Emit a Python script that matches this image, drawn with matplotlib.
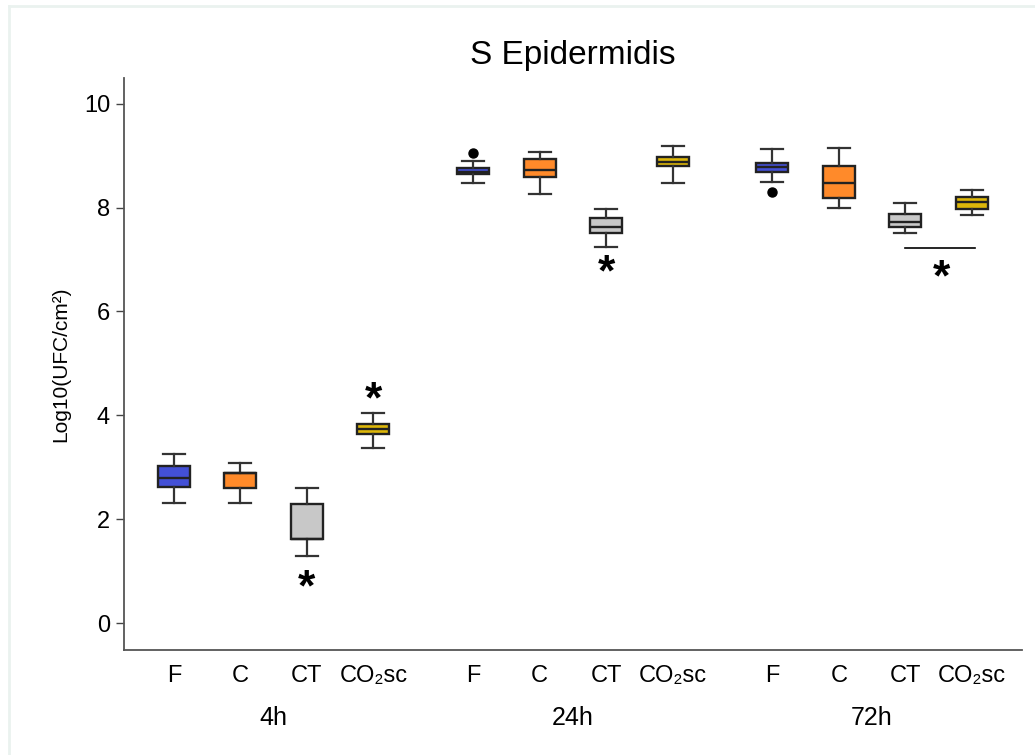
import numpy as np
import matplotlib
matplotlib.use("Agg")
from matplotlib import pyplot as plt

plt.rcParams['font.family'] = ['Liberation Sans', 'DejaVu Sans']

groups = ["4h", "24h", "72h"]
treatments = ["F", "C", "CT", "CO₂sc"]
colors = ["#4350D6", "#FF8A2A", "#C8C8C8", "#DDB70A"]

# per box: lower whisker, q1, median, q3, upper whisker (group order 4h, 24h, 72h)
whislo = [2.31, 2.31, 1.29, 3.37,  8.48, 8.27, 7.25, 8.48,  8.50, 8.00, 7.51, 7.86]
q1     = [2.62, 2.60, 1.62, 3.64,  8.65, 8.59, 7.51, 8.81,  8.69, 8.19, 7.63, 7.98]
med    = [2.79, 2.88, 1.62, 3.74,  8.69, 8.73, 7.63, 8.88,  8.79, 8.48, 7.73, 8.11]
q3     = [3.02, 2.89, 2.29, 3.83,  8.77, 8.94, 7.80, 8.98,  8.86, 8.81, 7.88, 8.21]
whishi = [3.26, 3.08, 2.60, 4.05,  8.90, 9.07, 7.98, 9.19,  9.13, 9.15, 8.09, 8.34]
fliers = [[], [], [], [],  [9.06], [], [], [],  [8.30], [], [], []]

# significance marks: (box index, y)
stars = [(2, 0.83), (3, 4.45), (6, 6.90)]
bracket = (10, 11, 7.23, 6.80)  # from box, to box, line y, star y

positions = []
for g in range(len(groups)):
    for t in range(len(treatments)):
        positions.append(g * 4.5 + t)

stats = []
for i in range(len(positions)):
    stats.append(dict(whislo=whislo[i], q1=q1[i], med=med[i], q3=q3[i],
                      whishi=whishi[i], fliers=fliers[i]))

fig = plt.figure(figsize=(10.35, 7.55), dpi=100)
ax = fig.add_axes([0.1198, 0.139, 0.868, 0.758])

bp = ax.bxp(stats, positions=positions, widths=0.48, patch_artist=True,
            showfliers=True,
            boxprops=dict(edgecolor="#222222", linewidth=1.7),
            medianprops=dict(color="#222222", linewidth=1.7),
            whiskerprops=dict(color="#333333", linewidth=1.6),
            capprops=dict(color="#333333", linewidth=1.6),
            capwidths=0.33,
            flierprops=dict(marker="o", markerfacecolor="black",
                            markeredgecolor="black", markersize=6.5))
for i, patch in enumerate(bp["boxes"]):
    patch.set_facecolor(colors[i % 4])

star_kw = dict(ha="center", va="center", fontsize=32, fontweight="bold",
               color="black")
for idx, y in stars:
    ax.text(positions[idx], y - 0.17, "*", **star_kw)
b0, b1, ly, sy = bracket
ax.plot([positions[b0], positions[b1] + 0.05], [ly, ly], color="black", lw=1.2)
ax.text((positions[b0] + positions[b1]) / 2 + 0.05, sy - 0.17, "*", **star_kw)

ax.set_xlim(-0.75, 12.76)
ax.set_ylim(-0.52, 10.5)
ax.set_yticks([0, 2, 4, 6, 8, 10])
ax.set_xticks(positions)
ax.set_xticklabels(treatments * len(groups))
ax.tick_params(axis="x", length=0, labelsize=17, pad=11)
ax.tick_params(axis="y", length=6, width=1, labelsize=17, color="#444444",
               pad=4)
for s in ["top", "right"]:
    ax.spines[s].set_visible(False)
for s in ["left", "bottom"]:
    ax.spines[s].set_color("#555555")
    ax.spines[s].set_linewidth(1.3)

for g, name in enumerate(groups):
    ax.text(g * 4.5 + 1.5, -0.119, name, transform=ax.get_xaxis_transform(),
            ha="center", va="center", fontsize=18)

ax.set_ylabel("Log10(UFC/cm²)", fontsize=15, labelpad=10)
ax.set_title("S Epidermidis", fontsize=24, pad=10)

# faint frame around the figure
fig.add_artist(plt.Line2D([9 / 1035, 9 / 1035], [0, 1 - 6 / 755],
                          transform=fig.transFigure, color="#EAF2EF", lw=2))
fig.add_artist(plt.Line2D([9 / 1035, 1], [1 - 6 / 755, 1 - 6 / 755],
                          transform=fig.transFigure, color="#EAF2EF", lw=2))

fig.savefig("out.png", dpi=100)
